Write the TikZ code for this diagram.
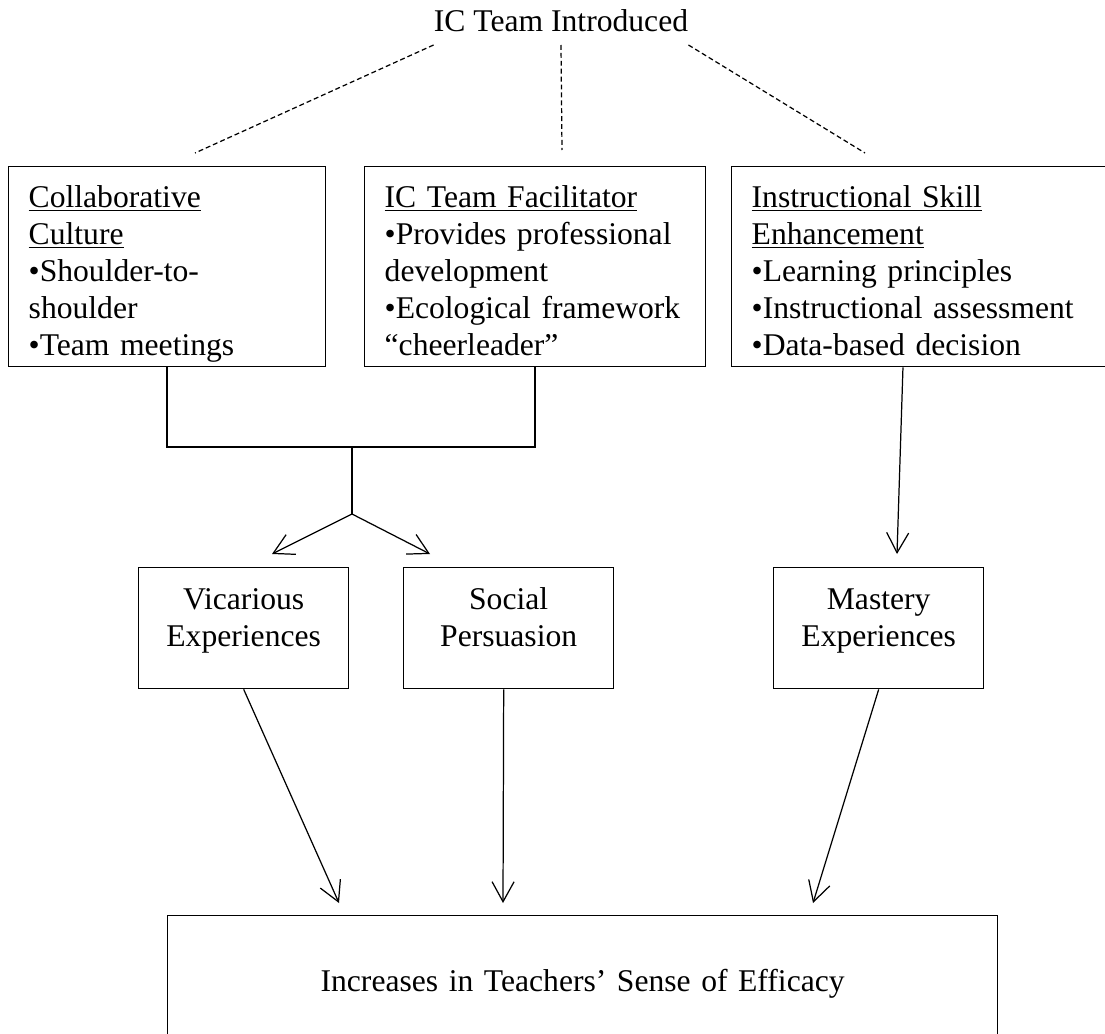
\documentclass[tikz,border=0pt]{standalone}
\usepackage{fontspec}
\setmainfont{Liberation Serif}
\usetikzlibrary{arrows.meta,positioning}

\begin{document}
\begin{tikzpicture}[x=0.02cm,y=-0.02cm,font=\fontsize{18}{21}\selectfont,
    topbox/.style={draw,line width=0.8pt,anchor=north west,align=left,
      inner xsep=0.4cm,inner ysep=0.05cm,minimum height=4cm,
      text height=0.75cm,text depth=3.1cm},
    srcbox/.style={draw,line width=0.8pt,anchor=north west,align=center,
      text width=3.4cm,inner xsep=0.4cm,minimum height=2.42cm,
      text height=0.45cm,text depth=1.2cm},
    dashes/.style={dash pattern=on 2.8pt off 1.7pt,line width=0.7pt},
    arr/.style={-{Straight Barb[length=4mm,width=4.4mm]},line width=0.7pt}]
    \useasboundingbox (0,0) rectangle (1105,1034);

    % IC team and its three parts
    \node[anchor=south,inner xsep=0pt,inner ysep=0.26cm,text depth=0pt] (intro) at (561,45) {IC Team Introduced};
    \node[topbox,text width=5.54cm] (collab) at (8,166)
        {\underline{Collaborative}\\\underline{Culture}\\•Shoulder-to-\\shoulder\\•Team meetings};
    \node[topbox,text width=6.02cm] (facil) at (364,166)
        {\underline{IC Team Facilitator}\\•Provides professional\\development\\•Ecological framework\\“cheerleader”};
    \node[topbox,text width=6.9cm] (skill) at (731,166)
        {\underline{Instructional Skill}\\\underline{Enhancement}\\•Learning principles\\•Instructional assessment\\•Data-based decision};

    % sources of efficacy
    \node[srcbox] (vicar) at (138,567) {Vicarious\\Experiences};
    \node[srcbox] (social) at (403,567) {Social\\Persuasion};
    \node[srcbox] (mastery) at (773,567) {Mastery\\Experiences};

    \node[draw,line width=0.8pt,anchor=north west,align=center,text width=15.8cm,inner xsep=0.4cm,
        minimum height=2.7cm,text height=0.45cm,text depth=0.1cm] (efficacy) at (167,915)
        {Increases in Teachers’ Sense of Efficacy};

    \coordinate (dl) at (195,153);
    \coordinate (dm) at (562,150);
    \coordinate (dr) at (865,153);
    \coordinate (join) at (352,447);
    \coordinate (fork) at (352,514);
    \coordinate (vtip) at (272,554);
    \coordinate (stip) at (430,554);
    \coordinate (mtip) at (897,554);
    \coordinate (e1) at (339,903);
    \coordinate (e2) at (503,903);
    \coordinate (e3) at (813,903);

    \path[dashes]
        (intro.south west) edge (dl)
        (intro.south) edge (dm)
        (intro.south east) edge (dr);

    \draw[line width=0.8pt] (collab.south) |- (join) -| (facil.south);
    \draw[line width=0.8pt] (join) -- (fork);

    \path[arr]
        (fork) edge (vtip)
        (fork) edge (stip)
        ([xshift=3.44cm]skill.south west) edge (mtip)
        (vicar.south) edge (e1)
        ([xshift=-0.1cm]social.south) edge (e2)
        (mastery.south) edge (e3);
\end{tikzpicture}
\end{document}
